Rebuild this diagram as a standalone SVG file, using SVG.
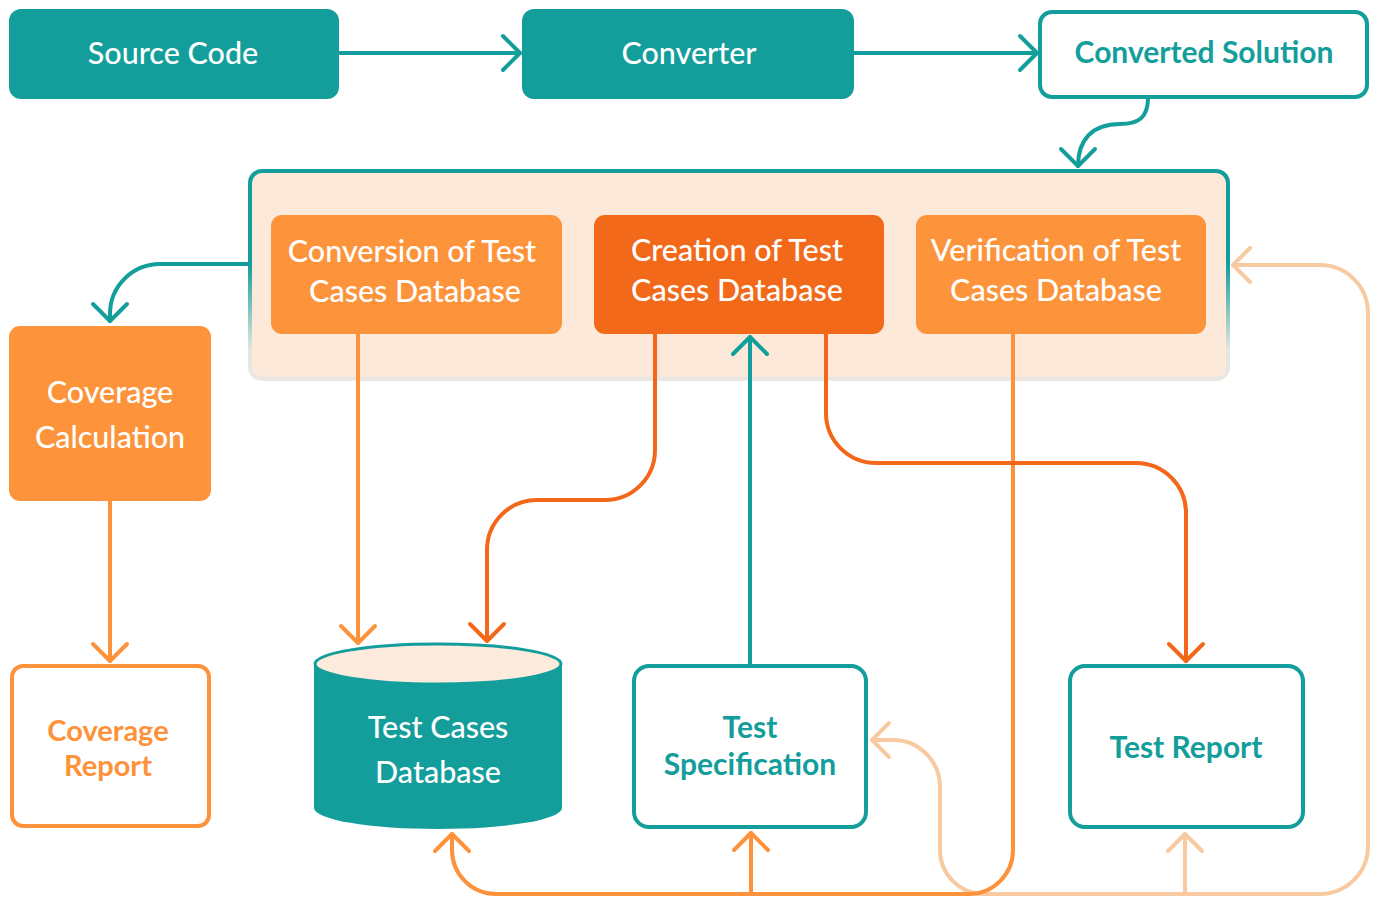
<svg xmlns="http://www.w3.org/2000/svg" width="1380" height="897" viewBox="0 0 1380 897">
  <style>
    .lbl { font-family: Lato, "Open Sans", "Liberation Sans", sans-serif; text-anchor: middle; }
    .w { fill: #ffffff; font-size: 30.5px; font-weight: 500; }
    .tb { fill: #139e9c; font-size: 30px; font-weight: 700; }
    .ob { fill: #fd923a; font-size: 29px; font-weight: 700; }
    .teal-fill { fill: #139e9c; }
    .outline-teal { fill: #ffffff; stroke: #139e9c; stroke-width: 4; }
    .outline-orange { fill: #ffffff; stroke: #fd923a; stroke-width: 4; }
    .c { fill: none; stroke-width: 4; stroke-linecap: round; stroke-linejoin: round; }
    .c-teal { stroke: #139e9c; }
    .c-orange { stroke: #fd923a; }
    .c-dark { stroke: #f26719; }
    .c-peach { stroke: #f7caa1; }
  </style>
  <defs>
    <marker id="ah-teal" markerUnits="userSpaceOnUse" viewBox="-22 -22 44 44" markerWidth="44" markerHeight="44" refX="0" refY="0" orient="auto-start-reverse" overflow="visible">
      <path d="M-17,-17 L0,0 L-17,17" fill="none" stroke="#139e9c" stroke-width="4" stroke-linecap="round" stroke-linejoin="round"/>
    </marker>
    <marker id="ah-orange" markerUnits="userSpaceOnUse" viewBox="-22 -22 44 44" markerWidth="44" markerHeight="44" refX="0" refY="0" orient="auto-start-reverse" overflow="visible">
      <path d="M-17,-17 L0,0 L-17,17" fill="none" stroke="#fd923a" stroke-width="4" stroke-linecap="round" stroke-linejoin="round"/>
    </marker>
    <marker id="ah-dark" markerUnits="userSpaceOnUse" viewBox="-22 -22 44 44" markerWidth="44" markerHeight="44" refX="0" refY="0" orient="auto-start-reverse" overflow="visible">
      <path d="M-17,-17 L0,0 L-17,17" fill="none" stroke="#f26719" stroke-width="4" stroke-linecap="round" stroke-linejoin="round"/>
    </marker>
    <marker id="ah-peach" markerUnits="userSpaceOnUse" viewBox="-22 -22 44 44" markerWidth="44" markerHeight="44" refX="0" refY="0" orient="auto-start-reverse" overflow="visible">
      <path d="M-17,-17 L0,0 L-17,17" fill="none" stroke="#f7caa1" stroke-width="4" stroke-linecap="round" stroke-linejoin="round"/>
    </marker>
    <!-- frame stroke of the process group: teal on top, fading towards the bottom -->
    <linearGradient id="frame-stroke" gradientUnits="userSpaceOnUse" x1="0" y1="170" x2="0" y2="380">
      <stop offset="0" stop-color="#139e9c"/>
      <stop offset="0.45" stop-color="#139e9c"/>
      <stop offset="0.85" stop-color="#e2e6df"/>
      <stop offset="1" stop-color="#ebe7e3"/>
    </linearGradient>
  </defs>

  <!-- process group frame -->
  <g id="process-group">
    <rect x="250" y="171" width="978" height="208" rx="12" fill="#fce9da" stroke="url(#frame-stroke)" stroke-width="4"/>
  </g>

  <!-- connectors -->
  <g id="connectors">
    <path class="c c-teal" d="M339,53 H520" marker-end="url(#ah-teal)"/>
    <path class="c c-teal" d="M854,53 H1037" marker-end="url(#ah-teal)"/>
    <path class="c c-teal" d="M1148,98 C1148,118 1138,124 1120,124 C1092,124 1078,140 1078,166" marker-end="url(#ah-teal)"/>
    <path class="c c-teal" d="M248,264 H160 A50,50 0 0 0 110,314 V321" marker-end="url(#ah-teal)"/>
    <path class="c c-teal" d="M750,665 V337" marker-end="url(#ah-teal)"/>

    <path class="c c-peach" d="M872,740 H893 A47,47 0 0 1 940,787 V850 A44,44 0 0 0 984,894 H1320 A48,48 0 0 0 1368,846 V313 A48,48 0 0 0 1320,265 H1233" marker-start="url(#ah-peach)" marker-end="url(#ah-peach)"/>
    <path class="c c-peach" d="M1185,894 V834" marker-end="url(#ah-peach)"/>

    <path class="c c-orange" d="M358,334 V643" marker-end="url(#ah-orange)"/>
    <path class="c c-orange" d="M110,501 V661" marker-end="url(#ah-orange)"/>
    <path class="c c-orange" d="M1013,334 V850 A44,44 0 0 1 969,894 H496 A44,44 0 0 1 452,850 V834" marker-end="url(#ah-orange)"/>
    <path class="c c-orange" d="M751,894 V833" marker-end="url(#ah-orange)"/>

    <path class="c c-dark" d="M655,334 V450 A50,50 0 0 1 605,500 H537 A50,50 0 0 0 487,550 V641" marker-end="url(#ah-dark)"/>
    <path class="c c-dark" d="M826,334 V413 A50,50 0 0 0 876,463 H1136 A50,50 0 0 1 1186,513 V661" marker-end="url(#ah-dark)"/>
  </g>

  <!-- top row -->
  <g id="source-code">
    <rect class="teal-fill" x="9" y="9" width="330" height="90" rx="12"/>
    <text class="lbl w" x="173" y="64">Source Code</text>
  </g>
  <g id="converter">
    <rect class="teal-fill" x="522" y="9" width="332" height="90" rx="12"/>
    <text class="lbl w" x="689" y="64">Converter</text>
  </g>
  <g id="converted-solution">
    <rect class="outline-teal" x="1040" y="12" width="327" height="85" rx="12"/>
    <text class="lbl tb" x="1204" y="63">Converted Solution</text>
  </g>

  <!-- steps inside the process group -->
  <g id="conversion">
    <rect x="271" y="215" width="291" height="119" rx="11" fill="#fd933b"/>
    <text class="lbl w" x="412" y="262">Conversion of Test</text>
    <text class="lbl w" x="415" y="302">Cases Database</text>
  </g>
  <g id="creation">
    <rect x="594" y="215" width="290" height="119" rx="11" fill="#f2691a"/>
    <text class="lbl w" x="737" y="261">Creation of Test</text>
    <text class="lbl w" x="737" y="301">Cases Database</text>
  </g>
  <g id="verification">
    <rect x="916" y="215" width="290" height="119" rx="11" fill="#fd933b"/>
    <text class="lbl w" x="1056" y="261">Verification of Test</text>
    <text class="lbl w" x="1056" y="301">Cases Database</text>
  </g>

  <!-- coverage branch -->
  <g id="coverage-calculation">
    <rect x="9" y="326" width="202" height="175" rx="11" fill="#fd933b"/>
    <text class="lbl w" x="110" y="403">Coverage</text>
    <text class="lbl w" x="110" y="448">Calculation</text>
  </g>
  <g id="coverage-report">
    <rect class="outline-orange" x="12" y="666" width="197" height="160" rx="11"/>
    <text class="lbl ob" x="108" y="741">Coverage</text>
    <text class="lbl ob" x="108" y="776">Report</text>
  </g>

  <!-- database -->
  <g id="test-cases-database">
    <path class="teal-fill" d="M314,664 V808 A124,21 0 0 0 562,808 V664 Z"/>
    <ellipse cx="438" cy="664" rx="123" ry="20" fill="#fdebdd" stroke="#139e9c" stroke-width="3"/>
    <text class="lbl w" x="438" y="738">Test Cases</text>
    <text class="lbl w" x="438" y="783">Database</text>
  </g>

  <g id="test-specification">
    <rect class="outline-teal" x="634" y="666" width="232" height="161" rx="15"/>
    <text class="lbl tb" x="750" y="738">Test</text>
    <text class="lbl tb" x="750" y="775">Specification</text>
  </g>
  <g id="test-report">
    <rect class="outline-teal" x="1070" y="666" width="233" height="161" rx="15"/>
    <text class="lbl tb" x="1186" y="758">Test Report</text>
  </g>
</svg>
